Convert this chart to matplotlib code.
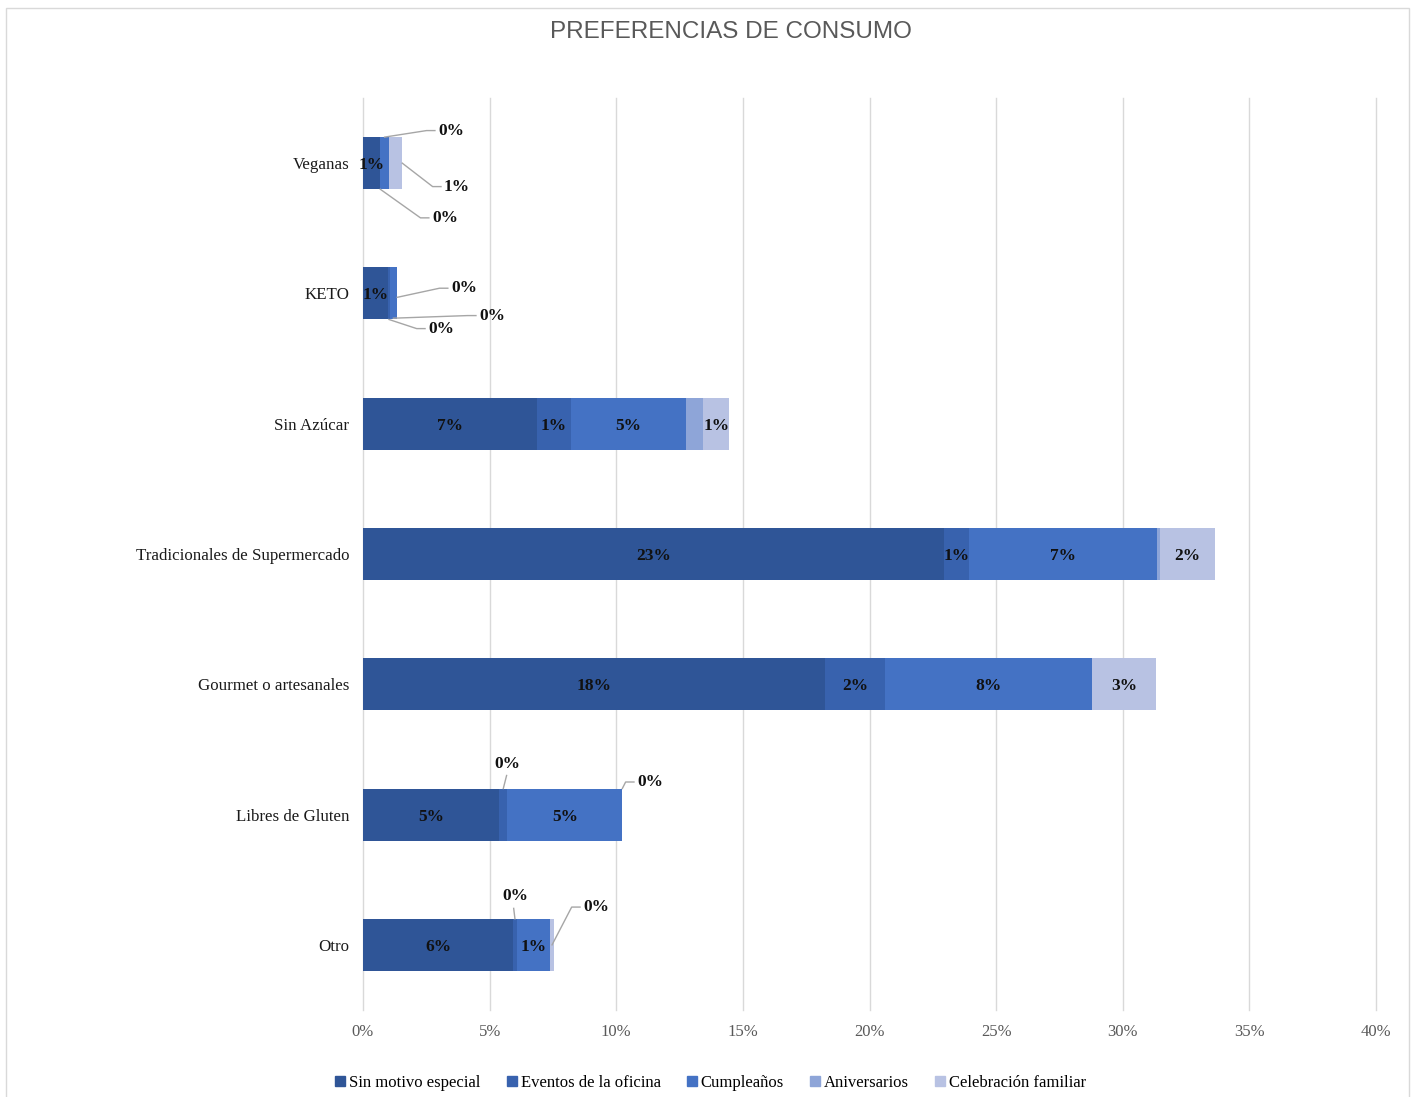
import numpy as np
import matplotlib.pyplot as plt
from matplotlib.lines import Line2D
from matplotlib.patches import Rectangle

nan = np.nan

categories = [
    "Veganas",
    "KETO",
    "Sin Azúcar",
    "Tradicionales de Supermercado",
    "Gourmet o artesanales",
    "Libres de Gluten",
    "Otro",
]
series_names = [
    "Sin motivo especial",
    "Eventos de la oficina",
    "Cumpleaños",
    "Aniversarios",
    "Celebración familiar",
]
# percent of respondents, one list per series (same order as categories)
sin_motivo = [0.68, 1.00, 6.87, 22.94, 18.24, 5.38, 5.92]
eventos = [0.00, 0.05, 1.34, 0.99, 2.37, 0.32, 0.16]
cumpleanos = [0.35, 0.30, 4.55, 7.41, 8.17, 4.54, 1.30]
aniversarios = [nan, nan, 0.67, 0.13, nan, nan, nan]
celebracion = [0.52, 0.00, 1.03, 2.17, 2.55, 0.00, 0.17]

values = np.array([sin_motivo, eventos, cumpleanos, aniversarios, celebracion])
colors = ["#2F5597", "#3862AE", "#4472C4", "#8EA5D8", "#B8C2E3"]

# labels placed outside the bar with a leader line:
# (category, series, anchor x mode, anchor dy, text x, text dy, text mode)
leaders = [
    (0, 2, "mid", -0.20, 2.96, -0.25, "left"),
    (0, 4, "end", 0.00, 3.20, 0.18, "left"),
    (0, 1, "mid", 0.20, 2.72, 0.42, "left"),
    (1, 4, "end", 0.03, 3.47, -0.04, "left"),
    (1, 2, "mid", 0.19, 4.58, 0.17, "left"),
    (1, 1, "mid", 0.20, 2.57, 0.27, "left"),
    (5, 1, "mid", -0.20, 5.72, -0.33, "above"),
    (5, 4, "end", -0.20, 10.82, -0.25, "left"),
    (6, 1, "mid", -0.20, 6.00, -0.31, "above"),
    (6, 4, "mid", 0.00, 8.69, -0.29, "left"),
]
hidden = {(2, 3), (3, 3)}

serif = ["Liberation Serif", "DejaVu Serif"]
plt.rcParams["font.family"] = serif


def pct(v):
    return f"{int(np.floor(v + 0.5))}%"


fig = plt.figure(figsize=(14.13, 10.97), dpi=100)
ax = fig.add_axes([363 / 1413, 1 - 1010 / 1097, 1013 / 1413, 912 / 1097])

y = np.arange(len(categories))
left = np.zeros(len(categories))
for s in range(len(series_names)):
    w = np.nan_to_num(values[s])
    ax.barh(y, w, left=left, height=0.4, color=colors[s],
            linewidth=0, label=series_names[s], zorder=2)
    left = left + w

starts = np.vstack([np.zeros(len(categories)),
                    np.cumsum(np.nan_to_num(values), axis=0)[:-1]])

outside = {(c, s) for c, s, *_ in leaders}
for s in range(len(series_names)):
    for c in range(len(categories)):
        v = values[s, c]
        if np.isnan(v) or (c, s) in hidden or (c, s) in outside:
            continue
        ax.text(starts[s, c] + v / 2, c, pct(v), ha="center",
                va="center_baseline", fontsize=12.5, fontweight="bold",
                color="#111111", zorder=4)

for c, s, amode, ady, tx, tdy, tmode in leaders:
    v = values[s, c]
    x0 = starts[s, c] + (v if amode == "end" else v / 2)
    y0 = c + ady
    ty = c + tdy
    if tmode == "left":
        ax.plot([x0, tx - 0.45, tx - 0.12], [y0, ty, ty], color="#A6A6A6",
                lw=1, zorder=3, clip_on=False)
        ax.text(tx, ty, pct(v), ha="left", va="center", fontsize=12.5,
                fontweight="bold", color="#111111")
    else:
        ax.plot([x0, tx - 0.05], [y0, ty + 0.03], color="#A6A6A6",
                lw=1, zorder=3, clip_on=False)
        ax.text(tx, ty, pct(v), ha="center", va="bottom", fontsize=12.5,
                fontweight="bold", color="#111111")

ax.set_xlim(0, 40)
ax.set_ylim(len(categories) - 0.5, -0.5)
ax.set_xticks(np.arange(0, 41, 5))
ax.set_xticklabels([f"{t}%" for t in range(0, 41, 5)])
ax.set_yticks(y)
ax.set_yticklabels(categories)
ax.tick_params(axis="x", length=0, pad=10, labelsize=12, labelcolor="#595959")
ax.tick_params(axis="y", length=0, pad=10, labelsize=12.2, labelcolor="#1a1a1a")
ax.grid(axis="x", color="#D9D9D9", lw=1, zorder=0)
for gl in ax.get_xgridlines():
    gl.set_clip_on(False)
ax.set_axisbelow(True)
for sp in ax.spines.values():
    sp.set_visible(False)

fig.text(731 / 1413, 1 - 32 / 1097, "PREFERENCIAS DE CONSUMO",
         ha="center", va="center", fontsize=17.5, color="#595959",
         family=["Liberation Sans Narrow", "Liberation Sans", "DejaVu Sans"])

handles = [Line2D([], [], marker="s", ls="none", markersize=7,
                  color=col) for col in colors]
fig.legend(handles, series_names, loc="center", ncol=5, frameon=False,
           bbox_to_anchor=(711 / 1413, 1 - 1083 / 1097), fontsize=12,
           handlelength=0.5, handletextpad=0.3, columnspacing=1.6)

# chart frame
fig.patches.append(Rectangle((6 / 1413, -0.05), 1403 / 1413, 1.05 - 8 / 1097,
                             transform=fig.transFigure, fill=False,
                             edgecolor="#D9D9D9", lw=1))

fig.savefig("out.png", dpi=100)
